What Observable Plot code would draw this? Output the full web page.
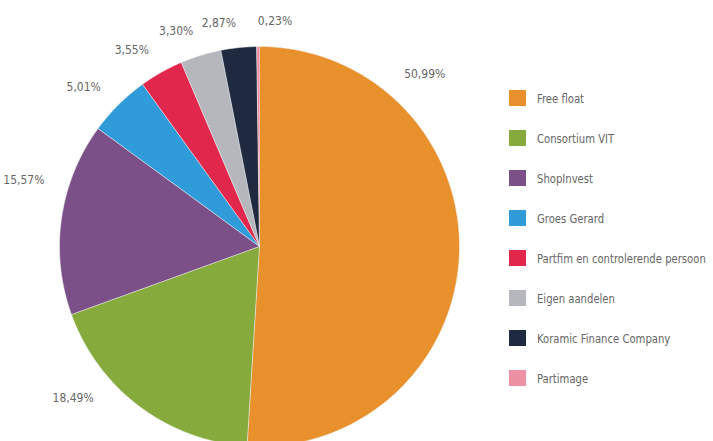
<!DOCTYPE html>
<html>
<head>
<meta charset="utf-8">
<script src="https://cdn.jsdelivr.net/npm/d3@7"></script>
<script src="https://cdn.jsdelivr.net/npm/@observablehq/plot@0.6"></script>
<style>
  html, body { margin: 0; padding: 0; background: #fff; }
  #wrap { position: relative; width: 713px; height: 441px; overflow: hidden; }
  #legend { position: absolute; left: 509px; top: 78px; font-family: "DejaVu Sans", sans-serif; font-stretch: semi-condensed; font-size: 13px; color: #666; white-space: nowrap; }
  .row { display: flex; align-items: center; height: 40px; }
  .sw { width: 17px; height: 16px; margin-right: 11px; flex: none; }
  .row span { display: inline-block; transform: scaleX(0.86); transform-origin: 0 50%; }
</style>
</head>
<body>
<div id="wrap"><div id="legend"></div></div>
<script>
const names = ["Free float", "Consortium VIT", "ShopInvest", "Groes Gerard", "Partfim en controlerende persoon", "Eigen aandelen", "Koramic Finance Company", "Partimage"];
const values = [50.99, 18.49, 15.57, 5.01, 3.55, 3.30, 2.87, 0.23];
const labelsText = ["50,99%", "18,49%", "15,57%", "5,01%", "3,55%", "3,30%", "2,87%", "0,23%"];
const colors = ["#E8902B", "#86AA3B", "#7B5088", "#2F9BD8", "#E1284C", "#B5B7BD", "#1F2A40", "#EE90A3"];

const arcs = d3.pie().sort(null).value(d => d.value)(names.map((n, i) => ({name: n, value: values[i], label: labelsText[i]})));

const pts = [];
for (const a of arcs) {
  pts.push({name: a.data.name, x: 0, y: 0});
  const n = Math.ceil((a.endAngle - a.startAngle) / 0.005) + 1;
  for (let k = 0; k <= n; k++) {
    const t = a.startAngle + (a.endAngle - a.startAngle) * k / n;
    pts.push({name: a.data.name, x: Math.sin(t), y: Math.cos(t)});
  }
}

// label placement: small slices at mid-angle, large ones pulled toward the edge nearest 12 o'clock
const TAU = 2 * Math.PI;
const deg = Math.PI / 180;
const lab = arcs.map(a => {
  const span = a.endAngle - a.startAngle;
  const dS = Math.min(a.startAngle, TAU - a.startAngle);
  const dE = Math.min(a.endAngle, TAU - a.endAngle);
  const off = span <= 30 * deg ? span / 2 : Math.min(0.34 * span, 40 * deg);
  const ang = dS <= dE ? a.startAngle + off : a.endAngle - off;
  const r = 1.125;
  const sx = Math.sin(ang);
  return {text: a.data.label, x: r * sx, y: r * Math.cos(ang), anchor: sx >= -0.02 ? "start" : "end"};
});

const chart = Plot.plot({
  width: 713,
  height: 441,
  margin: 0,
  style: {fontFamily: '"DejaVu Sans", sans-serif', fontStretch: "semi-condensed", overflow: "hidden"},
  x: {domain: [-1, 1], range: [59, 459], axis: null},
  y: {domain: [-1, 1], range: [446, 46], axis: null},
  color: {domain: names, range: colors},
  marks: [
    Plot.line(pts, {x: "x", y: "y", z: "name", fill: "name", stroke: "#f4f4f4", strokeWidth: 0.6, curve: "linear"}),
    Plot.text(lab.filter(d => d.anchor === "start"), {x: "x", y: "y", text: "text", fontSize: 12, fill: "#666", textAnchor: "start"}),
    Plot.text(lab.filter(d => d.anchor === "end"), {x: "x", y: "y", text: "text", fontSize: 12, fill: "#666", textAnchor: "end"})
  ]
});
document.getElementById("wrap").prepend(chart);

const leg = d3.select("#legend");
names.forEach((n, i) => {
  const row = leg.append("div").attr("class", "row");
  row.append("div").attr("class", "sw").style("background", colors[i]);
  row.append("span").text(n);
});
</script>
</body>
</html>
